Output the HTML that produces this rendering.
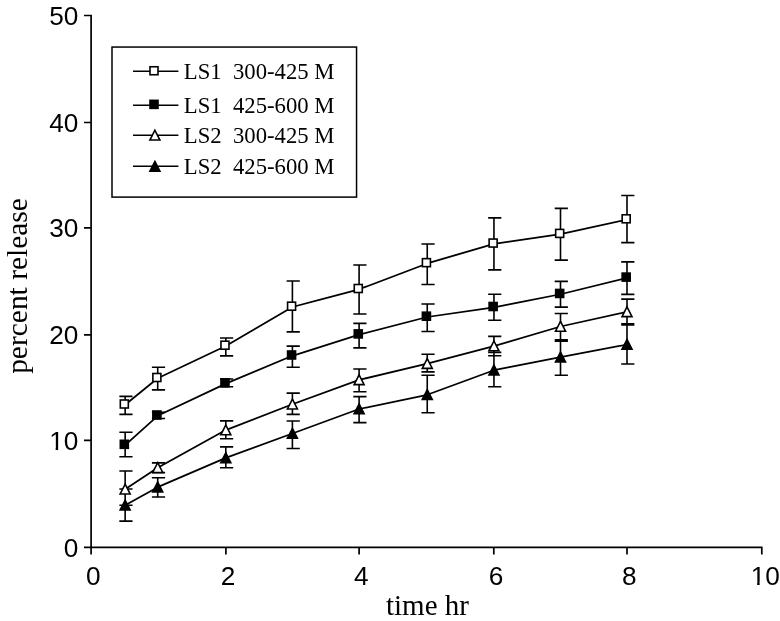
<!DOCTYPE html>
<html><head><meta charset="utf-8"><title>Chart</title>
<style>
html,body{margin:0;padding:0;background:#fff;}
body{width:780px;height:621px;overflow:hidden;font-family:"Liberation Sans",sans-serif;}
svg{display:block;will-change:transform;}
text{white-space:pre;}
</style></head><body>
<svg width="780" height="621" viewBox="0 0 780 621"><path d="M91.1 14.7V547.3 M91.1 547.3H762.6 M84 547.3H91.1 M84 440.4H91.1 M84 334.8H91.1 M84 227.8H91.1 M84 122.5H91.1 M84 15.5H91.1 M91.1 547.3V554.6 M225.9 547.3V554.6 M359.1 547.3V554.6 M493.8 547.3V554.6 M627 547.3V554.6 M761.8 547.3V554.6" stroke="#000" stroke-width="1.7" fill="none"/>
<g font-family="Liberation Sans, sans-serif" font-size="26.2" fill="#000"><text x="78.3" y="556.7" text-anchor="end">0</text><text x="78.3" y="449.8" text-anchor="end">10</text><text x="78.3" y="344.2" text-anchor="end">20</text><text x="78.3" y="237.2" text-anchor="end">30</text><text x="78.3" y="131.9" text-anchor="end">40</text><text x="78.3" y="24.9" text-anchor="end">50</text><text x="93.3" y="584.7" text-anchor="middle">0</text><text x="228.1" y="584.7" text-anchor="middle">2</text><text x="361.3" y="584.7" text-anchor="middle">4</text><text x="496" y="584.7" text-anchor="middle">6</text><text x="629.2" y="584.7" text-anchor="middle">8</text><text x="765.2" y="584.7" text-anchor="middle">10</text></g>
<g fill="#fff"><rect x="50.44" y="447.49" width="5.22" height="2.96"/><rect x="58.15" y="447.49" width="5.21" height="2.96"/><rect x="751.91" y="582.39" width="5.22" height="2.96"/><rect x="759.62" y="582.39" width="5.21" height="2.96"/></g>
<text x="427.45" y="615.2" text-anchor="middle" font-family="Liberation Serif, serif" font-size="29">time hr</text>
<text transform="translate(26.9 286.0) rotate(-90)" x="0" y="0" text-anchor="middle" font-family="Liberation Serif, serif" font-size="29.45">percent release</text>
<polyline points="125.15,404.8 157.7,378.3 225.8,346 292.4,307 359.1,289.3 427.25,263.45 493.95,243.85 560.5,234.2 627,219.6" fill="none" stroke="#000" stroke-width="1.75" stroke-linejoin="round"/>
<polyline points="125.15,445.1 157.7,415.8 225.8,383.6 292.4,355.8 359.1,334.7 427.25,317 493.95,307.3 560.5,294.25 627,277.9" fill="none" stroke="#000" stroke-width="1.75" stroke-linejoin="round"/>
<polyline points="125.15,489.3 157.7,467.8 225.8,430.1 292.4,404.25 359.1,379.9 427.25,363.7 493.95,346.1 560.5,326.5 627,311.9" fill="none" stroke="#000" stroke-width="1.75" stroke-linejoin="round"/>
<polyline points="125.15,505.3 157.7,487.15 225.8,457.9 292.4,433.5 359.1,409 427.25,394.8 493.95,370.2 560.5,357.2 627,344.5" fill="none" stroke="#000" stroke-width="1.75" stroke-linejoin="round"/>
<path d="M125.15 396.4V414.4 M119.35 396.4H132.55 M119.35 414.4H132.55 M157.7 367.3V389.9 M151.9 367.3H165.1 M151.9 389.9H165.1 M225.8 338V355.9 M220 338H233.2 M220 355.9H233.2 M292.4 281V331.9 M286.6 281H299.8 M286.6 331.9H299.8 M359.1 265V313.95 M353.3 265H366.5 M353.3 313.95H366.5 M427.25 244V284.5 M421.45 244H434.65 M421.45 284.5H434.65 M493.95 217.85V269.9 M488.15 217.85H501.35 M488.15 269.9H501.35 M560.5 208.4V260.15 M554.7 208.4H567.9 M554.7 260.15H567.9 M627 195.5V242.6 M621.2 195.5H634.4 M621.2 242.6H634.4 M125.15 432.2V456.7 M119.35 432.2H132.55 M119.35 456.7H132.55 M157.7 412.3V418.5 M151.9 412.3H165.1 M151.9 418.5H165.1 M225.8 379V386.7 M220 379H233.2 M220 386.7H233.2 M292.4 346.1V367.25 M286.6 346.1H299.8 M286.6 367.25H299.8 M359.1 323.4V347.9 M353.3 323.4H366.5 M353.3 347.9H366.5 M427.25 304V331.5 M421.45 304H434.65 M421.45 331.5H434.65 M493.95 294.2V320.3 M488.15 294.2H501.35 M488.15 320.3H501.35 M560.5 281.4V307.1 M554.7 281.4H567.9 M554.7 307.1H567.9 M627 261.85V294.35 M621.2 261.85H634.4 M621.2 294.35H634.4 M125.15 471V505.3 M119.35 471H132.55 M119.35 505.3H132.55 M157.7 462.85V472.6 M151.9 462.85H165.1 M151.9 472.6H165.1 M225.8 420.9V438.8 M220 420.9H233.2 M220 438.8H233.2 M292.4 393.15V414.4 M286.6 393.15H299.8 M286.6 414.4H299.8 M359.1 369V391.8 M353.3 369H366.5 M353.3 391.8H366.5 M427.25 354.3V371.9 M421.45 354.3H434.65 M421.45 371.9H434.65 M493.95 336.4V355.8 M488.15 336.4H501.35 M488.15 355.8H501.35 M560.5 313.45V339.8 M554.7 313.45H567.9 M554.7 339.8H567.9 M627 299.1V323.8 M621.2 299.1H634.4 M621.2 323.8H634.4 M125.15 489V521.1 M119.35 489H132.55 M119.35 521.1H132.55 M157.7 477.7V497 M151.9 477.7H165.1 M151.9 497H165.1 M225.8 446.9V467.8 M220 446.9H233.2 M220 467.8H233.2 M292.4 421V448.5 M286.6 421H299.8 M286.6 448.5H299.8 M359.1 396.6V422.6 M353.3 396.6H366.5 M353.3 422.6H366.5 M427.25 375.3V412.7 M421.45 375.3H434.65 M421.45 412.7H434.65 M493.95 352.4V386.8 M488.15 352.4H501.35 M488.15 386.8H501.35 M560.5 341.2V375.25 M554.7 341.2H567.9 M554.7 375.25H567.9 M627 325V364 M621.2 325H634.4 M621.2 364H634.4" stroke="#000" stroke-width="1.6" fill="none"/>
<rect x="120.32" y="400" width="8" height="8" fill="#fff" stroke="#000" stroke-width="1.6"/>
<rect x="120.32" y="440.3" width="8" height="8" fill="#000" stroke="#000" stroke-width="1.6"/>
<path d="M125.15 484.2L130.15 494L120.15 494Z" fill="#fff" stroke="#000" stroke-width="1.6" stroke-linejoin="miter"/>
<path d="M125.15 500.2L130.15 510L120.15 510Z" fill="#000" stroke="#000" stroke-width="1.6" stroke-linejoin="miter"/>
<rect x="152.87" y="373.5" width="8" height="8" fill="#fff" stroke="#000" stroke-width="1.6"/>
<rect x="152.87" y="411" width="8" height="8" fill="#000" stroke="#000" stroke-width="1.6"/>
<path d="M157.7 462.7L162.7 472.5L152.7 472.5Z" fill="#fff" stroke="#000" stroke-width="1.6" stroke-linejoin="miter"/>
<path d="M157.7 482.05L162.7 491.85L152.7 491.85Z" fill="#000" stroke="#000" stroke-width="1.6" stroke-linejoin="miter"/>
<rect x="220.97" y="341.2" width="8" height="8" fill="#fff" stroke="#000" stroke-width="1.6"/>
<rect x="220.97" y="378.8" width="8" height="8" fill="#000" stroke="#000" stroke-width="1.6"/>
<path d="M225.8 425L230.8 434.8L220.8 434.8Z" fill="#fff" stroke="#000" stroke-width="1.6" stroke-linejoin="miter"/>
<path d="M225.8 452.8L230.8 462.6L220.8 462.6Z" fill="#000" stroke="#000" stroke-width="1.6" stroke-linejoin="miter"/>
<rect x="287.57" y="302.2" width="8" height="8" fill="#fff" stroke="#000" stroke-width="1.6"/>
<rect x="287.57" y="351" width="8" height="8" fill="#000" stroke="#000" stroke-width="1.6"/>
<path d="M292.4 399.15L297.4 408.95L287.4 408.95Z" fill="#fff" stroke="#000" stroke-width="1.6" stroke-linejoin="miter"/>
<path d="M292.4 428.4L297.4 438.2L287.4 438.2Z" fill="#000" stroke="#000" stroke-width="1.6" stroke-linejoin="miter"/>
<rect x="354.27" y="284.5" width="8" height="8" fill="#fff" stroke="#000" stroke-width="1.6"/>
<rect x="354.27" y="329.9" width="8" height="8" fill="#000" stroke="#000" stroke-width="1.6"/>
<path d="M359.1 374.8L364.1 384.6L354.1 384.6Z" fill="#fff" stroke="#000" stroke-width="1.6" stroke-linejoin="miter"/>
<path d="M359.1 403.9L364.1 413.7L354.1 413.7Z" fill="#000" stroke="#000" stroke-width="1.6" stroke-linejoin="miter"/>
<rect x="422.42" y="258.65" width="8" height="8" fill="#fff" stroke="#000" stroke-width="1.6"/>
<rect x="422.42" y="312.2" width="8" height="8" fill="#000" stroke="#000" stroke-width="1.6"/>
<path d="M427.25 358.6L432.25 368.4L422.25 368.4Z" fill="#fff" stroke="#000" stroke-width="1.6" stroke-linejoin="miter"/>
<path d="M427.25 389.7L432.25 399.5L422.25 399.5Z" fill="#000" stroke="#000" stroke-width="1.6" stroke-linejoin="miter"/>
<rect x="489.12" y="239.05" width="8" height="8" fill="#fff" stroke="#000" stroke-width="1.6"/>
<rect x="489.12" y="302.5" width="8" height="8" fill="#000" stroke="#000" stroke-width="1.6"/>
<path d="M493.95 341L498.95 350.8L488.95 350.8Z" fill="#fff" stroke="#000" stroke-width="1.6" stroke-linejoin="miter"/>
<path d="M493.95 365.1L498.95 374.9L488.95 374.9Z" fill="#000" stroke="#000" stroke-width="1.6" stroke-linejoin="miter"/>
<rect x="555.67" y="229.4" width="8" height="8" fill="#fff" stroke="#000" stroke-width="1.6"/>
<rect x="555.67" y="289.45" width="8" height="8" fill="#000" stroke="#000" stroke-width="1.6"/>
<path d="M560.5 321.4L565.5 331.2L555.5 331.2Z" fill="#fff" stroke="#000" stroke-width="1.6" stroke-linejoin="miter"/>
<path d="M560.5 352.1L565.5 361.9L555.5 361.9Z" fill="#000" stroke="#000" stroke-width="1.6" stroke-linejoin="miter"/>
<rect x="622.17" y="214.8" width="8" height="8" fill="#fff" stroke="#000" stroke-width="1.6"/>
<rect x="622.17" y="273.1" width="8" height="8" fill="#000" stroke="#000" stroke-width="1.6"/>
<path d="M627 306.8L632 316.6L622 316.6Z" fill="#fff" stroke="#000" stroke-width="1.6" stroke-linejoin="miter"/>
<path d="M627 339.4L632 349.2L622 349.2Z" fill="#000" stroke="#000" stroke-width="1.6" stroke-linejoin="miter"/>
<rect x="112" y="47.05" width="244.55" height="150.05" fill="#fff" stroke="#000" stroke-width="1.5"/>
<path d="M133 71.25H178.4" stroke="#000" stroke-width="1.6"/>
<rect x="150" y="66.75" width="8" height="8" fill="#fff" stroke="#000" stroke-width="1.6"/>
<text x="183.8" y="78.5" font-family="Liberation Serif, serif" font-size="22.7" xml:space="preserve">LS1  300-425 M</text>
<path d="M133 105.25H178.4" stroke="#000" stroke-width="1.6"/>
<rect x="150" y="100.35" width="8" height="8" fill="#000" stroke="#000" stroke-width="1.6"/>
<text x="183.8" y="112.5" font-family="Liberation Serif, serif" font-size="22.7" xml:space="preserve">LS1  425-600 M</text>
<path d="M133 135.25H178.4" stroke="#000" stroke-width="1.6"/>
<path d="M154.9 130.25L159.9 140.05L149.9 140.05Z" fill="#fff" stroke="#000" stroke-width="1.6" stroke-linejoin="miter"/>
<text x="183.8" y="142.5" font-family="Liberation Serif, serif" font-size="22.7" xml:space="preserve">LS2  300-425 M</text>
<path d="M133 166.25H178.4" stroke="#000" stroke-width="1.6"/>
<path d="M154.9 161.45L159.9 171.25L149.9 171.25Z" fill="#000" stroke="#000" stroke-width="1.6" stroke-linejoin="miter"/>
<text x="183.8" y="173.5" font-family="Liberation Serif, serif" font-size="22.7" xml:space="preserve">LS2  425-600 M</text></svg>
</body></html>
